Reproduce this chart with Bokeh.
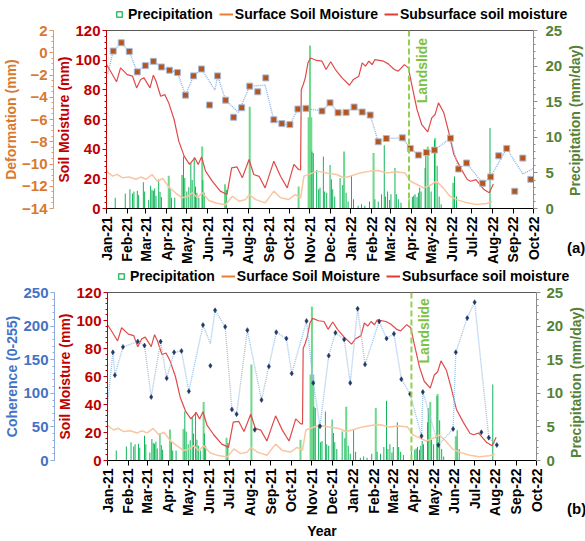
import math
import pandas as pd
from bokeh.plotting import figure
from bokeh.layouts import column, row
from bokeh.models import (LinearAxis, Range1d, DatetimeTickFormatter, MonthsTicker,
                          FixedTicker, Legend, LegendItem, Span, Label)
from bokeh.embed import file_html
from bokeh.resources import INLINE

# ---------------- data ----------------
sub_dates = ["2021-01-01","2021-01-07","2021-01-16","2021-01-22","2021-02-01","2021-02-09","2021-02-15","2021-02-21","2021-02-26","2021-03-07",
             "2021-03-12","2021-03-16","2021-03-23","2021-03-29","2021-04-04","2021-04-12","2021-04-19","2021-04-27","2021-05-05","2021-05-13",
             "2021-05-18","2021-05-23","2021-05-29","2021-06-08","2021-06-20","2021-06-30","2021-07-07","2021-07-15","2021-07-23","2021-08-02",
             "2021-08-09","2021-08-17","2021-08-26","2021-09-08","2021-09-18","2021-09-28","2021-10-08","2021-10-15","2021-10-18","2021-10-19",
             "2021-10-22","2021-10-25","2021-10-29","2021-11-02","2021-11-11","2021-11-19","2021-11-25","2021-12-02","2021-12-09","2021-12-19",
             "2021-12-30","2022-01-05","2022-01-13","2022-01-18","2022-01-23","2022-01-28","2022-02-02","2022-02-06","2022-02-19","2022-02-26",
             "2022-03-07","2022-03-13","2022-03-22","2022-03-28","2022-04-02","2022-04-10","2022-04-17","2022-04-26","2022-05-02","2022-05-07",
             "2022-05-12","2022-05-20","2022-05-27","2022-06-04","2022-06-14","2022-06-24","2022-06-29","2022-07-07","2022-07-19","2022-07-27",
             "2022-08-02"]
sub_vals = [97,92.5,85.4,94.8,90.3,89.2,81.3,87,88.1,81.3,
            89.9,85.8,75.7,76.8,71.2,60,45.4,35.3,29.7,34.2,
            29.7,34.8,25.2,18.4,11.7,9.4,27.4,28,20.7,33,
            22.9,21.7,13.9,31.9,21.7,13.9,29.7,26.3,26,80,
            83.6,88.1,98.2,101.5,99.8,99.3,93.7,98.9,93.7,88.1,
            83.1,87,89.2,98.2,96,99.3,97,100.4,99.3,97.5,
            93.7,92.6,97,94.8,83.6,66.7,56.6,51.7,61.1,63.4,
            71.2,64.5,52.1,36.4,27.4,19.5,18.4,19.5,12.8,10.6,
            16.6]

surf_dates = ["2021-01-01","2021-01-10","2021-01-17","2021-01-25","2021-02-04","2021-02-14","2021-02-21","2021-03-01","2021-03-10","2021-03-18",
              "2021-03-26","2021-04-04","2021-04-14","2021-04-24","2021-05-03","2021-05-09","2021-05-17","2021-05-24","2021-06-03","2021-06-15",
              "2021-06-28","2021-07-08","2021-07-18","2021-07-28","2021-08-02","2021-08-12","2021-08-26","2021-09-08","2021-09-18","2021-09-30",
              "2021-10-10","2021-10-18","2021-10-23","2021-10-30","2021-11-12","2021-11-26","2021-12-11","2021-12-21","2021-12-31",
              "2022-01-15","2022-01-30","2022-02-11","2022-02-23","2022-03-10","2022-03-23","2022-03-31","2022-04-10","2022-04-20","2022-05-02",
              "2022-05-09","2022-05-19","2022-05-29","2022-06-08","2022-06-24","2022-07-08","2022-07-23","2022-07-31"]
surf_vals = [25.2,21.8,23,20.7,21.2,19.7,21.2,19.7,22.9,18.4,
             20.2,14.4,10.6,7.2,8.3,10.6,7.2,10.6,5.4,3.5,
             2.5,8.3,4.9,6,9.4,6,3.8,11.7,7.2,6,
             9.4,7.2,21.8,23,25.2,24,22.9,20.7,21.8,
             24,25.2,25.6,24,24.7,24,18.4,16.2,13.9,16.2,
             18.4,13.9,8.3,6,3.8,2.7,3.4,4.5]

rain_dates = ["2021-01-14","2021-01-29","2021-02-05","2021-02-09","2021-02-11","2021-02-16","2021-02-18","2021-02-25","2021-02-27","2021-03-05",
              "2021-03-08","2021-03-10","2021-03-12","2021-03-14","2021-03-16","2021-03-20","2021-03-22","2021-03-24","2021-04-06","2021-04-08",
              "2021-04-13","2021-04-26","2021-04-28","2021-05-01","2021-05-04","2021-05-07","2021-05-09","2021-05-12","2021-05-14","2021-05-16",
              "2021-05-19","2021-05-25","2021-05-27","2021-06-29","2021-11-04","2021-11-06","2021-11-11","2021-11-14","2021-11-16","2021-11-21",
              "2021-11-23","2021-11-26","2021-12-01","2021-12-03","2021-12-05","2021-12-08","2021-12-16","2021-12-20","2021-12-25","2021-12-28",
              "2022-01-02","2022-01-05","2022-01-12","2022-01-17","2022-01-22","2022-01-29","2022-02-06","2022-02-11","2022-02-16","2022-02-20",
              "2022-02-22","2022-02-25","2022-02-28","2022-03-02","2022-03-08","2022-03-10","2022-03-13","2022-03-17","2022-03-29","2022-04-03",
              "2022-04-05","2022-04-07","2022-04-10","2022-04-12","2022-04-14","2022-04-16","2022-04-22","2022-04-23","2022-04-28","2022-05-01",
              "2022-05-06","2022-05-10","2022-05-13","2022-05-16","2022-06-05","2022-06-08","2022-07-28"]
rain_vals = [1.5,2.1,2.7,2.1,2.4,2.5,1.9,3.7,2.4,1.2,
             3.2,2.6,2.5,2.8,1.8,4.1,2.3,1.6,2.9,1.5,
             1.5,7.3,4.3,2.4,3.0,6.4,4.0,7.2,3.1,2.2,
             1.5,4.0,2.2,2.6,8.0,7.8,5.4,2.7,2.9,7.3,
             2.4,2.2,6.1,4.1,2.7,1.7,4.3,3.3,2.2,1.0,
             4.7,1.3,0.4,0.6,0.4,1.0,1.3,1.0,2.0,8.9,
             1.7,2.4,1.2,2.0,5.7,2.0,1.3,0.8,1.3,1.6,
             1.8,2.0,1.6,2.2,2.9,2.4,5.7,7.8,3.1,2.4,
             9.6,6.0,1.7,0.6,4.5,1.7,11.3]
rain_light_dates = ["2021-04-04","2021-04-24","2021-05-24","2021-06-27","2021-08-03","2021-10-15","2021-10-30","2021-11-01",
                    "2021-11-03","2021-12-22","2022-02-04","2022-04-26","2022-05-07","2022-06-03"]
rain_light_vals = [4.6,4.7,8.7,3.4,14.3,3.1,12.8,22.9,12.8,8.0,7.8,8.7,9.9,3.6]

def_dates = ["2021-01-11","2021-01-23","2021-02-04","2021-02-16","2021-02-28","2021-03-12","2021-03-24","2021-04-05","2021-04-17","2021-04-29",
             "2021-05-11","2021-05-23","2021-06-04","2021-06-16","2021-06-28","2021-07-10","2021-07-22","2021-08-03","2021-08-15","2021-08-27",
             "2021-09-08","2021-09-20","2021-10-02","2021-10-14","2021-10-26","2021-11-19","2021-12-01","2021-12-13","2021-12-25",
             "2022-01-06","2022-01-18","2022-01-30","2022-02-11","2022-02-23","2022-03-19","2022-03-31","2022-04-12","2022-04-24","2022-05-06",
             "2022-05-30","2022-06-11","2022-06-23","2022-07-17","2022-07-29","2022-08-10","2022-08-22","2022-09-03","2022-09-15","2022-09-27"]
def_vals = [0.15,0.9,0.12,-1.72,-1.16,-0.77,-1.28,-1.57,-1.78,-3.81,
            -2.08,-1.46,-4.70,-2.08,-4.26,-5.8,-4.94,-3.0,-3.51,-2.26,
            -6.02,-6.37,-6.46,-5.06,-5.0,-5.24,-4.5,-5.39,-5.36,
            -4.88,-5.33,-5.6,-8.0,-7.71,-7.65,-8.6,-9.2,-8.97,-8.75,
            -7.68,-10.45,-9.91,-11.73,-11.16,-9.26,-8.6,-12.45,-9.47,-11.38]

trend_dates = ["2021-01-03","2021-01-11","2021-01-23","2021-02-04","2021-02-16","2021-02-28","2021-03-12","2021-03-24","2021-04-05","2021-04-17",
               "2021-04-29","2021-05-11","2021-05-23","2021-06-12","2021-06-16","2021-06-28","2021-07-17","2021-08-03","2021-08-26","2021-09-08",
               "2021-09-20","2021-10-02","2021-10-14","2021-10-26","2021-11-19","2021-12-01","2021-12-13","2021-12-25",
               "2022-01-06","2022-01-18","2022-01-30","2022-02-11","2022-02-23","2022-03-19","2022-03-31","2022-04-12","2022-04-24","2022-05-06",
               "2022-05-30","2022-06-11","2022-06-23","2022-07-17","2022-07-29","2022-08-22","2022-09-15","2022-10-01"]
trend_vals = [-1.87,0.15,0.9,0.12,-1.72,-1.16,-0.77,-1.28,-1.57,-1.78,
              -3.81,-2.08,-1.46,-3.36,-2.08,-4.26,-5.36,-3.0,-2.92,-6.02,
              -6.37,-6.46,-5.06,-5.0,-5.24,-4.5,-5.39,-5.36,
              -4.88,-5.33,-5.6,-8.0,-7.71,-7.65,-8.6,-9.2,-8.97,-8.75,
              -7.68,-10.45,-9.91,-11.73,-11.16,-8.6,-10.9,-10.4]

coh_dates = ["2021-01-09","2021-01-12","2021-01-24","2021-02-15","2021-02-25","2021-03-07","2021-03-21","2021-03-30","2021-04-10","2021-04-21",
             "2021-05-02","2021-05-23","2021-06-03","2021-06-10","2021-06-25","2021-07-05","2021-07-12","2021-07-28","2021-08-08","2021-08-18",
             "2021-08-29","2021-09-09","2021-09-24","2021-10-02","2021-10-24","2021-11-03","2021-11-13","2021-11-26","2021-12-06","2021-12-19",
             "2021-12-28","2022-01-08","2022-01-19","2022-02-09","2022-02-20","2022-03-03","2022-03-14","2022-03-27","2022-04-13","2022-04-15",
             "2022-05-08","2022-05-30","2022-06-03","2022-06-20","2022-07-01","2022-07-11","2022-07-22","2022-08-03"]
coh_vals = [161,127,169,177,171,94.5,177,122.5,161,163,
            103,201.6,141,223.5,199,76,69,194,45.6,90,
            140,191,181.6,129.5,207.6,115.5,51,156,190,180,
            115.5,226,143,207,181.6,188.5,121,99,36.3,102,
            23,47,161,212,235.6,42,34,23]

coh_line_dates = ["2021-01-01","2021-01-09","2021-01-12","2021-01-24","2021-02-15","2021-02-25","2021-03-07","2021-03-21","2021-03-30","2021-04-10",
                  "2021-04-21","2021-05-02","2021-05-23","2021-06-03","2021-06-10","2021-06-25","2021-07-05","2021-07-12","2021-07-28","2021-08-18",
                  "2021-08-29","2021-09-09","2021-09-24","2021-10-02","2021-10-24","2021-11-03","2021-11-13","2021-11-26","2021-12-06","2021-12-19",
                  "2021-12-28","2022-01-08","2022-01-19","2022-02-09","2022-02-20","2022-03-03","2022-03-14","2022-03-27","2022-04-13","2022-04-15",
                  "2022-05-08","2022-05-30","2022-06-03","2022-06-20","2022-07-01","2022-07-22","2022-08-03"]
coh_line_vals = [83,161,127,169,177,171,94.5,177,122.5,161,
                 163,103,201.6,174,223.5,199,76,69,194,90,
                 140,191,181.6,129.5,207.6,115.5,51,156,190,180,
                 115.5,226,143,207,181.6,188.5,121,99,36.3,102,
                 23,47,161,212,235.6,34,23]

landslide_date = "2022-03-29"
legend_labels = ["Precipitation", "Surface Soil Moisture", "Subsurface soil moisture"]
rain_axis_label = "Precipitation (mm/day)"
sm_ticks = [0, 20, 40, 60, 80, 100, 120]
rain_ticks = [0, 5, 10, 15, 20, 25]
def_ticks = [-14, -12, -10, -8, -6, -4, -2, 0, 2]
coh_ticks = [0, 50, 100, 150, 200, 250]

# ---------------- styling helpers ----------------
FONT = "Liberation Sans"
DAY = 86400000
X0, X1 = pd.Timestamp("2021-01-01"), pd.Timestamp("2022-10-01")
MAIN_W, SIDE_W = 566, 19


def ms(s):
    return pd.Timestamp(s).value / 1e6


def no_align(f):
    try:
        f.frame_align = False
    except Exception:
        pass


def bare_fig(width, height):
    f = figure(width=width, height=height, x_range=Range1d(0, width), y_range=Range1d(0, height),
               x_axis_location=None, y_axis_location=None, output_backend="svg",
               toolbar_location=None, min_border=0, outline_line_color=None)
    no_align(f)
    f.xgrid.visible = False
    f.ygrid.visible = False
    return f


def legend_fig(height, x0):
    f = bare_fig(585, height)
    rp = f.scatter(x=[-50], y=[-50], marker="square", size=7, fill_color=None,
                   line_color="#33c06a", line_width=1.5)
    rs = f.line(x=[-50, -40], y=[-50, -50], line_color="#ed7d31", line_width=2)
    ru = f.line(x=[-50, -40], y=[-50, -50], line_color="#e03c31", line_width=2)
    leg = Legend(items=[LegendItem(label=legend_labels[0], renderers=[rp]),
                        LegendItem(label=legend_labels[1], renderers=[rs]),
                        LegendItem(label=legend_labels[2], renderers=[ru])],
                 orientation="horizontal", location=(x0, -1),
                 label_text_font=FONT, label_text_font_style="bold", label_text_font_size="14px",
                 label_text_color="black", glyph_width=14, glyph_height=16, label_standoff=2,
                 spacing=6, padding=1, margin=0, border_line_color=None, background_fill_alpha=0)
    f.add_layout(leg, "center")
    return f


def side_fig(height, label_x, label_y, tag, tag_y):
    # strip right of a panel: holds the precipitation axis title and the panel tag
    f = bare_fig(SIDE_W, height)
    f.add_layout(Label(x=label_x, y=label_y, text=rain_axis_label, angle=math.pi / 2,
                       text_align="center", text_baseline="middle", text_color="#548235",
                       text_font=FONT, text_font_style="bold", text_font_size="14px"))
    f.add_layout(Label(x=0.5, y=tag_y, text=tag, text_align="left", text_baseline="middle",
                       text_color="black", text_font=FONT, text_font_style="bold",
                       text_font_size="15px"))
    return f


def style_axis(ax, color, label, line_color=None, size="15px"):
    lc = line_color or color
    ax.axis_label = label
    ax.axis_label_text_font = FONT
    ax.axis_label_text_font_style = "bold"
    ax.axis_label_text_font_size = "14px"
    ax.axis_label_text_color = color
    ax.major_label_text_font = FONT
    ax.major_label_text_font_style = "bold"
    ax.major_label_text_font_size = size
    ax.major_label_text_color = color
    ax.axis_line_color = lc
    ax.major_tick_line_color = lc
    ax.minor_tick_line_color = lc
    ax.major_tick_out = 4
    ax.major_tick_in = 0
    ax.minor_tick_out = 2
    ax.minor_tick_in = 0
    ax.major_label_standoff = 2
    ax.axis_label_standoff = 0


def make_panel(height, top, bottom, left, right, second_name, second_range, second_ticks,
               second_minor, second_label, second_color, second_line, year, ls_y, rain_standoff):
    p = figure(width=MAIN_W, height=height, x_axis_type="datetime",
               x_range=Range1d(X0, X1), y_range=Range1d(0, 120),
               output_backend="svg", toolbar_location=None,
               min_border_top=top, min_border_bottom=bottom,
               min_border_left=left, min_border_right=right)
    no_align(p)
    p.extra_y_ranges = {"rain": Range1d(0, 25), second_name: Range1d(*second_range)}
    p.xgrid.visible = False
    p.ygrid.visible = False
    p.outline_line_color = "#595959"
    p.background_fill_color = "white"
    p.border_fill_color = "white"

    # x axis
    xa = p.xaxis[0]
    xa.ticker = MonthsTicker(months=list(range(12)))
    xa.formatter = DatetimeTickFormatter(months="%b-%y", days="%b-%y", years="%b-%y")
    xa.major_label_orientation = math.pi / 2
    xa.major_label_text_font = FONT
    xa.major_label_text_font_style = "bold"
    xa.major_label_text_font_size = "14px"
    xa.major_label_text_color = "black"
    xa.axis_line_color = "black"
    xa.major_tick_line_color = "black"
    xa.major_tick_out = 5
    xa.major_tick_in = 0
    xa.minor_tick_line_color = None
    xa.major_label_standoff = 3
    if year:
        xa.axis_label = "Year"
        xa.axis_label_text_font = FONT
        xa.axis_label_text_font_style = "bold"
        xa.axis_label_text_font_size = "14px"
        xa.axis_label_text_color = "black"
        xa.axis_label_standoff = 4

    # soil moisture axis
    ya = p.yaxis[0]
    ya.ticker = FixedTicker(ticks=sm_ticks, minor_ticks=list(range(0, 121, 4)))
    style_axis(ya, "#c00000", "Soil Moisture (mm)")

    # second left axis (outer)
    a2 = LinearAxis(y_range_name=second_name,
                    ticker=FixedTicker(ticks=second_ticks, minor_ticks=second_minor))
    style_axis(a2, second_color, second_label, line_color=second_line)
    p.add_layout(a2, "left")

    # precipitation axis (its title is drawn in the side strip)
    ar = LinearAxis(y_range_name="rain",
                    ticker=FixedTicker(ticks=rain_ticks, minor_ticks=list(range(0, 26))))
    style_axis(ar, "#548235", None, line_color="#8c8c8c")
    ar.major_label_standoff = rain_standoff
    p.add_layout(ar, "right")

    # precipitation bars
    p.vbar(x=pd.to_datetime(rain_light_dates), top=rain_light_vals, bottom=0, width=3 * DAY,
           y_range_name="rain", fill_color="#6fd98b", line_color=None)
    p.vbar(x=pd.to_datetime(rain_dates), top=rain_vals, bottom=0, width=1.4 * DAY,
           y_range_name="rain", fill_color="#00b050", line_color=None)

    # soil moisture lines
    p.line(pd.to_datetime(surf_dates), surf_vals, line_color="#f9c6a2", line_width=1.5)
    p.line(pd.to_datetime(sub_dates), sub_vals, line_color="#e04a4a", line_width=1.2)

    # landslide line
    p.add_layout(Span(location=ms(landslide_date), dimension="height", line_color="#92d050",
                      line_dash="6 3", line_width=2))
    p.add_layout(Label(x=ms("2022-04-05"), y=ls_y, text="Landslide", angle=math.pi / 2,
                       text_align="right", text_baseline="top", text_color="#7cc242",
                       text_font=FONT, text_font_style="bold", text_font_size="14px"))
    return p


# ---------------- panel (a) ----------------
leg_a = legend_fig(21, 112)
pa = make_panel(245, 9, 57, 104, MAIN_W - 533, "def", (-14, 2), def_ticks,
                [v / 2 for v in range(-28, 5)], "Deformation (mm)", "#d9782f", "#e39a5f",
                False, 115, 8)
pa.line(pd.to_datetime(trend_dates), trend_vals, y_range_name="def",
        line_color="#8db3e2", line_width=1.4, line_dash="1 1")
pa.scatter(pd.to_datetime(def_dates), def_vals, y_range_name="def", marker="square", size=6,
           fill_color="#b5561f", line_color="#a9bbd9", line_width=1)
side_a = side_fig(245, 8, 146, "(a)", 19)

# ---------------- panel (b) ----------------
leg_b = legend_fig(17, 114)
pb = make_panel(258, 9, 70, 107, MAIN_W - 537, "coh", (0, 250), coh_ticks,
                list(range(0, 251, 10)), "Coherence (0-255)", "#4472c4", "#8faadc",
                True, 116, 6)
pb.line(pd.to_datetime(coh_line_dates), coh_line_vals, y_range_name="coh",
        line_color="#9dc3e6", line_width=1.4, line_dash="1 1")
pb.scatter(pd.to_datetime(coh_dates), coh_vals, y_range_name="coh", marker="diamond", size=5,
           fill_color="#203864", line_color="#203864", line_width=0.5)
side_b = side_fig(258, 9, 159, "(b)", 33)

layout = column(leg_a, row(pa, side_a, spacing=0), leg_b, row(pb, side_b, spacing=0), spacing=0)
open("out.html", "w").write(file_html(layout, INLINE))
